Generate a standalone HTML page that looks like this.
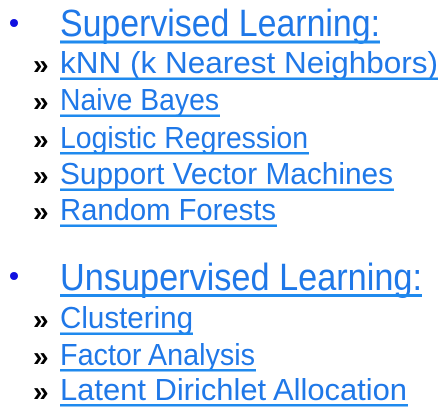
<!DOCTYPE html>
<html><head><style>html,body{margin:0;padding:0;background:#fff;}</style></head>
<body>
<svg width="446" height="420" xmlns="http://www.w3.org/2000/svg" style="display:block">
<g font-family="Liberation Sans, sans-serif" fill="#1f78e8">
<circle cx="14" cy="23" r="4" fill="#1010e0"/>
<circle cx="14" cy="276" r="4" fill="#1010e0"/>
<text x="60" y="36" font-size="38" textLength="320" lengthAdjust="spacingAndGlyphs">Supervised Learning:</text>
<rect x="60" y="40.5" width="320" height="3" fill="#1f8aee"/>
<text x="60" y="290" font-size="38" textLength="362" lengthAdjust="spacingAndGlyphs">Unsupervised Learning:</text>
<rect x="60" y="294" width="362" height="3" fill="#1f8aee"/>
<g font-size="31">
<text x="60" y="73" textLength="378" lengthAdjust="spacingAndGlyphs">kNN (k Nearest Neighbors)</text>
<rect x="60" y="77.5" width="378" height="2.5" fill="#1f8aee"/>
<text x="60" y="110" textLength="159" lengthAdjust="spacingAndGlyphs">Naive Bayes</text>
<rect x="60" y="114.5" width="160" height="2.5" fill="#1f8aee"/>
<text x="60" y="148" textLength="248" lengthAdjust="spacingAndGlyphs">Logistic Regression</text>
<rect x="60" y="152" width="249" height="2.5" fill="#1f8aee"/>
<text x="60" y="184" textLength="333" lengthAdjust="spacingAndGlyphs">Support Vector Machines</text>
<rect x="60" y="188.5" width="334" height="2.5" fill="#1f8aee"/>
<text x="60" y="220" textLength="216" lengthAdjust="spacingAndGlyphs">Random Forests</text>
<rect x="60" y="224.5" width="217" height="2.5" fill="#1f8aee"/>
<text x="60" y="328" textLength="133" lengthAdjust="spacingAndGlyphs">Clustering</text>
<rect x="60" y="332.5" width="133" height="2.5" fill="#1f8aee"/>
<text x="60" y="365" textLength="195" lengthAdjust="spacingAndGlyphs">Factor Analysis</text>
<rect x="60" y="369" width="196" height="2.5" fill="#1f8aee"/>
<text x="60" y="400" textLength="347" lengthAdjust="spacingAndGlyphs">Latent Dirichlet Allocation</text>
<rect x="60" y="404" width="348" height="2.5" fill="#1f8aee"/>
</g>
<g font-size="28" font-weight="bold" fill="#000">
<text x="33" y="74">»</text>
<text x="33" y="111">»</text>
<text x="33" y="149">»</text>
<text x="33" y="185">»</text>
<text x="33" y="221">»</text>
<text x="33" y="329">»</text>
<text x="33" y="366">»</text>
<text x="33" y="401">»</text>
</g>
</g>
</svg>
</body></html>
